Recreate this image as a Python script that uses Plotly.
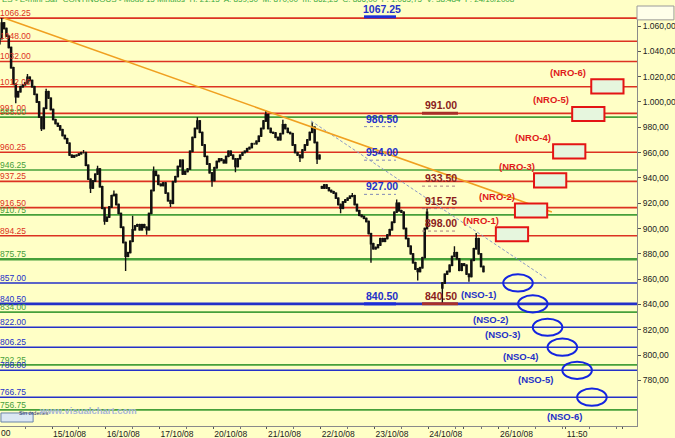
import plotly.graph_objects as go

# ---------------- data ----------------
day_labels = ["15/10/08", "16/10/08", "17/10/08", "20/10/08", "21/10/08",
              "22/10/08", "23/10/08", "24/10/08"]
day_ticks = [1, 2, 3, 4, 5, 6, 7, 8]
extra_tick_labels = ["26/10/08", "11:50"]
extra_ticks = [9.316, 10.56]

# sessions: start / end time (in trading-day units) and opening price
session_start = [0.0, 1.0, 2.0, 3.0, 4.0, 5.0, 6.0, 7.0, 8.24]
session_end = [1.0, 2.0, 3.0, 4.0, 5.0, 6.0, 7.0, 8.0, 9.05]
first_open = [1046.0, 994.0, 906.0, 935.0, 938.0, 990.0, 933.0, 884.0, 853.0]

closes_1410 = [1050, 1062.5, 1058, 1052, 1043, 1027, 1014, 1004, 1008, 1012, 1013.5, 1015,
               1019.5, 1017, 1012, 1006, 1000, 988, 979, 995, 1008, 1003, 994]
closes_1510 = [986, 983, 981, 978, 973.5, 971, 967.5, 958, 956.5, 957.5, 958, 959, 960, 960,
               950, 939, 932, 937.5, 943, 947, 933, 916, 906]
closes_1610 = [909, 917, 926, 927, 919, 912, 901, 889, 878, 881, 890, 899, 902, 903, 899, 903,
               901, 899, 912, 930, 945, 942, 935]
closes_1710 = [934, 936, 928, 922, 920, 937, 941, 949, 954, 943, 945, 947, 961, 972, 979, 985,
               976, 966, 957, 951, 944, 938]
closes_2010 = [948, 953, 955, 954, 952, 957, 961, 958, 955, 949, 955, 958, 960, 961, 963, 964,
               967, 967, 969, 973, 979, 985, 990]
closes_2110 = [979, 976, 975.5, 972, 970, 975, 982, 979, 976, 975, 966, 960, 958, 956, 962, 966,
               970, 976, 980, 968, 955, 958]
closes_2210 = [932, 934.5, 932, 930, 929, 928, 924, 919, 916, 921, 922.5, 924, 925.5, 926, 919,
               914, 910.5, 909.5, 908, 905.5, 896, 888, 884]
closes_2310 = [885, 887, 892, 890, 892, 895, 899, 905, 913, 920, 914, 913, 900, 892, 886, 880,
               873, 868, 866, 869, 877, 900, 913]
closes_2410 = [857, 864, 866, 871, 878, 881, 876, 867, 872, 871, 864, 862, 875, 884, 892, 880,
               870, 866]

# notable wick extremes: (session, bar, price)
high_marks = [(0, 1, 1066.25), (0, 12, 1022), (0, 20, 1010.5), (1, 13, 962), (1, 19, 949.5),
              (2, 3, 930), (2, 11, 910), (2, 20, 949), (3, 15, 988), (4, 22, 993), (5, 6, 986),
              (5, 18, 984), (6, 13, 928), (7, 9, 923), (7, 22, 915.75), (8, 5, 886), (8, 14, 896.5)]
low_marks = [(0, 7, 999), (0, 18, 977), (1, 16, 928), (1, 22, 903), (2, 8, 866.5), (2, 17, 895),
             (3, 4, 917), (3, 21, 933), (4, 9, 944.5), (5, 13, 952.5), (5, 20, 951), (6, 8, 912),
             (6, 21, 873), (7, 18, 859), (8, 0, 841), (8, 11, 858)]

red_levels = [1066.25, 1048.00, 1032.00, 1012.00, 991.00, 960.25, 937.25, 916.50, 894.25]
green_levels = [988.00, 946.25, 910.75, 875.75, 834.00, 792.25, 756.75]
blue_levels = [857.00, 840.50, 822.00, 806.25, 788.00, 766.75]

blue_marks = [1067.25, 980.50, 954.00, 927.00, 840.50]
blue_marks_solid = [True, False, False, False, True]
red_marks = [991.00, 933.50, 915.75, 898.00, 840.50]
red_marks_solid = [True, False, False, False, True]

nro_names = ["(NRO-1)", "(NRO-2)", "(NRO-3)", "(NRO-4)", "(NRO-5)", "(NRO-6)"]
nro_levels = [895.5, 914.25, 938.0, 961.0, 990.5, 1012.25]
nso_names = ["(NSO-1)", "(NSO-2)", "(NSO-3)", "(NSO-4)", "(NSO-5)", "(NSO-6)"]
nso_levels = [857.0, 840.5, 822.0, 806.25, 788.0, 766.75]

trend_t = [0.107, 10.30]
trend_p = [1066.25, 913.1]
channel_t = [5.82, 10.21]
channel_p = [985.0, 860.2]

yticks = [780, 800, 820, 840, 860, 880, 900, 920, 940, 960, 980, 1000, 1020, 1040, 1060]

# ---------------- build candles ----------------
sessions = [closes_1410, closes_1510, closes_1610, closes_1710, closes_2010,
            closes_2110, closes_2210, closes_2310, closes_2410]
t, o, h, l, c = [], [], [], [], []
index_of = {}
for s, closes in enumerate(sessions):
    n = len(closes)
    span = session_end[s] - session_start[s]
    prev = first_open[s]
    for k, cl in enumerate(closes):
        index_of[(s, k)] = len(t)
        t.append(session_start[s] + (k + 0.5) * span / n)
        o.append(prev)
        c.append(cl)
        h.append(max(prev, cl) + 0.75)
        l.append(min(prev, cl) - 0.75)
        prev = cl
for s, k, v in high_marks:
    h[index_of[(s, k)]] = v
for s, k, v in low_marks:
    l[index_of[(s, k)]] = v

FONT = "Arial, Liberation Sans, sans-serif"
RED = "#dc3222"
GREEN = "#46a03a"
BLUE = "#2431c8"
DKRED = "#8b1c1c"
BG = "#ffffc6"

fig = go.Figure()

shapes = []
annotations = []

# level lines and left labels
for levels, col in ((red_levels, RED), (green_levels, GREEN), (blue_levels, BLUE)):
    for v in levels:
        w = 2.6 if v in (875.75, 840.50) else 1.6
        shapes.append(dict(type="line", xref="paper", x0=0, x1=1, yref="y", y0=v, y1=v,
                           line=dict(color=col, width=w), layer="below"))
        annotations.append(dict(xref="paper", x=0, xanchor="left", xshift=-2,
                                yref="y", y=v, yanchor="bottom", yshift=-2,
                                text=f"{v:.2f}", showarrow=False,
                                font=dict(family=FONT, size=8.5, color=col)))

# small level markers
def add_marks(values, solids, col, line_col, dot_col, x0, x1, xc):
    for v, solid in zip(values, solids):
        shapes.append(dict(type="line", xref="x", x0=x0, x1=x1, yref="y", y0=v, y1=v,
                           line=dict(color=line_col if solid else dot_col,
                                     width=3 if solid else 1,
                                     dash="solid" if solid else "dot")))
        annotations.append(dict(xref="x", x=xc, yref="y", y=v, yanchor="bottom", yshift=0,
                                text=f"<b>{v:.2f}</b>", showarrow=False,
                                font=dict(family=FONT, size=10.5, color=col)))

add_marks(blue_marks, blue_marks_solid, BLUE, "#1c2fd8", "#8088b8", 6.805, 7.40, 7.14)
add_marks(red_marks, red_marks_solid, DKRED, "#a8302a", "#a88080", 7.884, 8.553, 8.237)

# NRO boxes
nro_dx = [-31, -34, -33, -36, -37, -39]
for i, (name, v) in enumerate(zip(nro_names, nro_levels)):
    cx = 9.558 + 0.355 * i
    shapes.append(dict(type="rect", xref="x", yref="y", x0=cx - 0.30, x1=cx + 0.30,
                       y0=v - 5.6, y1=v + 5.6, line=dict(color="#e41414", width=2),
                       fillcolor="#e6f6de"))
    annotations.append(dict(xref="x", x=cx, yref="y", y=v, xshift=nro_dx[i], yshift=14,
                            text=f"<b>{name}</b>", showarrow=False,
                            font=dict(family=FONT, size=9.5, color="#e01a1a")))

# NSO ellipses
nso_dx = [-40, -42, -45, -42, -42, -27]
nso_dy = [-12, -16, -7, -9, -9, -19]
for i, (name, v) in enumerate(zip(nso_names, nso_levels)):
    cx = 9.67 + 0.275 * i
    shapes.append(dict(type="circle", xref="x", yref="y", x0=cx - 0.275, x1=cx + 0.275,
                       y0=v - 6.8, y1=v + 6.8, line=dict(color="#1424e0", width=2)))
    annotations.append(dict(xref="x", x=cx, yref="y", y=v, xshift=nso_dx[i], yshift=nso_dy[i],
                            text=f"<b>{name}</b>", showarrow=False,
                            font=dict(family=FONT, size=9.5, color=BLUE)))

# trend lines
fig.add_trace(go.Scatter(x=channel_t, y=channel_p, mode="lines",
                         line=dict(color="#8a98c8", width=1, dash="3px,2px"),
                         hoverinfo="skip", showlegend=False))
fig.add_trace(go.Scatter(x=trend_t, y=trend_p, mode="lines",
                         line=dict(color="#f0a020", width=1.6),
                         hoverinfo="skip", showlegend=False))

fig.add_trace(go.Candlestick(
    x=t, open=o, high=h, low=l, close=c, whiskerwidth=0,
    increasing=dict(line=dict(color="#111111", width=1.4), fillcolor="#2f9e2f"),
    decreasing=dict(line=dict(color="#111111", width=1.4), fillcolor="#3a0d0d"),
    hoverinfo="skip", showlegend=False))

# header, corner boxes, watermark
annotations.append(dict(xref="paper", x=0, xanchor="left", yref="paper", y=1, yanchor="middle",
                        yshift=7, showarrow=False,
                        text="ES - E-mini S&P CONTINUOUS - Modo 15 Minutos  H: 21:15  A: 859,50  "
                             "M: 870,00  m: 862,25  C: 866,00  F: 1.065,75  V: 38.484  F: 24/10/2008",
                        font=dict(family=FONT, size=8, color="#3aa83a")))
annotations.append(dict(xref="paper", x=0, xanchor="left", xshift=-1, yref="paper", y=0,
                        yanchor="top", yshift=0, showarrow=False, text="00",
                        font=dict(family=FONT, size=8.5, color="#222")))
shapes.append(dict(type="rect", xref="paper", yref="paper", x0=0.0015, x1=0.052,
                   y0=0.0095, y1=0.031, line=dict(color="#6a84a8", width=1), fillcolor="#dce8f4"))
annotations.append(dict(xref="paper", x=0.0268, yref="paper", y=0.020, showarrow=False,
                        text="Sin órdenes", font=dict(family=FONT, size=5.5, color="#1a2a6a")))
annotations.append(dict(xref="paper", x=0.058, xanchor="left", yref="paper", y=0.020,
                        showarrow=False, text="<b>www.visualchart.com</b>",
                        font=dict(family=FONT, size=9.5, color="#a8b6d8")))
shapes.append(dict(type="rect", xref="paper", yref="paper", x0=1.0, x1=1.058,
                   y0=0.967, y1=1.0, line=dict(color="#9a9a9a", width=1), fillcolor="#ffffea"))

fig.update_layout(
    width=675, height=438,
    margin=dict(l=0, r=38, t=6, b=12),
    paper_bgcolor=BG, plot_bgcolor=BG,
    shapes=shapes, annotations=annotations,
    showlegend=False,
    xaxis=dict(range=[0.0326, 11.884], rangeslider=dict(visible=False),
               tickvals=day_ticks + extra_ticks + [8.665, 11.62],
               ticktext=day_labels + extra_tick_labels + ["", ""],
               ticks="outside", ticklen=2, tickcolor="#555",
               ticklabelposition="outside right",
               tickfont=dict(family=FONT, size=8.5, color="#222"),
               showgrid=False, zeroline=False, showline=True, linecolor="#8a8a8a",
               automargin=False,
               minor=dict(dtick=0.5, ticks="outside", ticklen=2, tickcolor="#777")),
    yaxis=dict(range=[744, 1075.8], side="right",
               tickvals=yticks,
               ticktext=[f"{v:,.2f}".replace(",", "X").replace(".", ",").replace("X", ".")
                         for v in yticks],
               ticks="outside", ticklen=3, tickcolor="#555",
               tickfont=dict(family=FONT, size=8.5, color="#222"),
               showgrid=False, zeroline=False, showline=True, linecolor="#8a8a8a",
               automargin=False),
)

fig.write_html("out.html", config={"displayModeBar": False},
               post_script="document.body.style.margin='0';document.body.style.overflow='hidden';")
